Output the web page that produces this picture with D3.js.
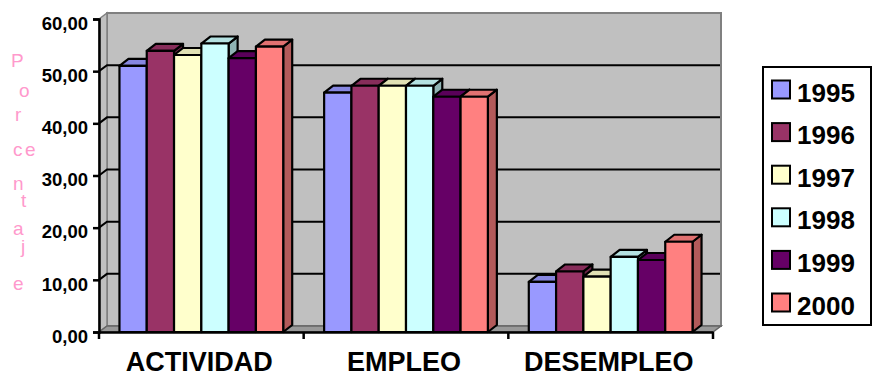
<!DOCTYPE html>
<html lang="es">
<head>
  <meta charset="UTF-8">
  <title>Actividad, empleo y desempleo</title>
  <script src="https://d3js.org/d3.v7.min.js"></script>
  <style>
    body { margin: 0; background: #fff; }
    svg { display: block; font-family: "Liberation Sans", Arial, sans-serif; }
    .tick-label { font-size: 18.5px; font-weight: bold; }
    .cat-label { font-size: 27px; font-weight: bold; fill: #000; }
    .legend text { font-size: 26px; font-weight: bold; }
    .title-y { font-size: 19px; fill: #ff99cc; }
  </style>
</head>
<body>
  <svg width="873" height="377"></svg>

  <script>
    // data
    const categories = ["ACTIVIDAD", "EMPLEO", "DESEMPLEO"];
    const years = ["1995", "1996", "1997", "1998", "1999", "2000"];
    const values = {
      "1995": [51.0, 45.9, 9.6],
      "1996": [53.9, 47.2, 11.6],
      "1997": [53.1, 47.2, 10.6],
      "1998": [55.3, 47.2, 14.4],
      "1999": [52.5, 45.1, 13.8],
      "2000": [54.7, 45.1, 17.3]
    };
    const yTicks = [0, 10, 20, 30, 40, 50, 60];
    const colors = ["#9999ff", "#993366", "#ffffcc", "#ccffff", "#660066", "#ff8080"];

    const svg = d3.select("svg");

    const x0 = 99, x1 = 713, yBase = 332, yTop = 19;
    const wallDx = 8, wallDy = 6;     // depth of the back wall
    const barDx = 9, barDy = 7;       // depth of each column

    const x = d3.scaleBand().domain(categories).range([x0, x1]);
    const xi = d3.scaleBand().domain(years).range([0, x.bandwidth()]).paddingOuter(0.75);
    const y = d3.scaleLinear().domain([0, 60]).range([yBase, yTop]);
    const color = d3.scaleOrdinal().domain(years).range(colors);

    const pts = a => a.map(p => p.join(",")).join(" ");

    // walls
    const walls = svg.append("g");
    // back wall
    walls.append("rect")
        .attr("x", x0 + wallDx).attr("y", yTop - wallDy)
        .attr("width", x1 - x0).attr("height", yBase - yTop)
        .attr("fill", "#c0c0c0").attr("stroke", "#808080").attr("stroke-width", 2);
    // side wall
    walls.append("polygon")
        .attr("points", pts([[x0, yTop], [x0 + wallDx, yTop - wallDy], [x0 + wallDx, yBase - wallDy], [x0, yBase]]))
        .attr("fill", "#c0c0c0").attr("stroke", "#808080").attr("stroke-width", 1.5);
    // floor
    walls.append("polygon")
        .attr("points", pts([[x0, yBase], [x0 + wallDx, yBase - wallDy], [x1 + wallDx, yBase - wallDy], [x1, yBase]]))
        .attr("fill", "#999999").attr("stroke", "#666666").attr("stroke-width", 1.5);

    // gridlines
    const grid = svg.append("g");
    yTicks.filter(t => t > 0 && t < 60).forEach(t => {
      grid.append("polyline")
          .attr("points", pts([[x0, y(t)], [x0 + wallDx, y(t) - wallDy], [x1 + wallDx - 1, y(t) - wallDy]]))
          .attr("fill", "none").attr("stroke", "#000").attr("stroke-width", 2);
    });

    // columns
    const bars = svg.append("g");
    categories.forEach((c, ci) => {
      years.forEach(yr => {
        const v = values[yr][ci];
        const bx = x(c) + xi(yr), bw = xi.bandwidth();
        const by = y(v), bh = yBase - by;
        const base = d3.color(color(yr));
        const g = bars.append("g").attr("stroke", "#000").attr("stroke-width", 2.2).attr("stroke-linejoin", "round");
        g.append("polygon")
            .attr("points", pts([[bx + bw, by], [bx + bw + barDx, by - barDy], [bx + bw + barDx, yBase - barDy], [bx + bw, yBase]]))
            .attr("fill", base.darker(1.0));
        g.append("polygon")
            .attr("points", pts([[bx, by], [bx + barDx, by - barDy], [bx + bw + barDx, by - barDy], [bx + bw, by]]))
            .attr("fill", base.darker(0.35));
        g.append("rect")
            .attr("x", bx).attr("y", by).attr("width", bw).attr("height", bh)
            .attr("fill", base);
      });
    });

    // y axis
    const yAxis = svg.append("g").attr("transform", `translate(${x0},0)`)
        .call(d3.axisLeft(y).tickValues(yTicks).tickSize(6).tickFormat(d => d3.format(".2f")(d).replace(".", ",")));
    yAxis.select(".domain").attr("stroke", "#000").attr("stroke-width", 2.5);
    yAxis.selectAll(".tick line").attr("stroke", "#000").attr("stroke-width", 2.5);
    yAxis.selectAll(".tick text").attr("class", "tick-label").attr("fill", "#000")
        .attr("x", -11).attr("dy", "0.55em");

    // x axis
    const xAxis = svg.append("g").attr("transform", `translate(0,${yBase})`)
        .call(d3.axisBottom(x).tickSize(0).tickFormat(""));
    xAxis.select(".domain").attr("stroke", "#000").attr("stroke-width", 2.5);
    xAxis.selectAll(".tick").remove();
    const sep = [x0].concat(categories.map(c => x(c) + x.bandwidth()));
    xAxis.selectAll("line.sep").data(sep).join("line")
        .attr("class", "sep")
        .attr("x1", d => d).attr("x2", d => d).attr("y1", 0).attr("y2", 7)
        .attr("stroke", "#000").attr("stroke-width", 2.5);

    svg.append("g").selectAll("text").data(categories).join("text")
        .attr("class", "cat-label")
        .attr("x", d => x(d) + x.bandwidth() / 2 - 2)
        .attr("y", yBase + 39)
        .attr("text-anchor", "middle")
        .text(d => d);

    // y title, letters stacked as in the original
    const titleLetters = [
      ["P", 11, 67], ["o", 19, 97], ["r", 15, 121], ["c", 13, 156], ["e", 25, 156],
      ["n", 13, 190], ["t", 21, 207], ["a", 13, 235], ["j", 21, 253], ["e", 13, 290]
    ];
    svg.append("g").selectAll("text").data(titleLetters).join("text")
        .attr("class", "title-y")
        .attr("x", d => d[1]).attr("y", d => d[2])
        .text(d => d[0]);

    // legend
    const legend = svg.append("g").attr("class", "legend");
    legend.append("rect")
        .attr("x", 763).attr("y", 67).attr("width", 108).attr("height", 258)
        .attr("fill", "#fff").attr("stroke", "#000").attr("stroke-width", 2);
    const ly = d3.scalePoint().domain(years).range([89.5, 302.5]);
    const item = legend.selectAll("g.item").data(years).join("g")
        .attr("class", "item")
        .attr("transform", d => `translate(772,${ly(d)})`);
    item.append("rect")
        .attr("x", 0).attr("y", -9).attr("width", 18).attr("height", 18)
        .attr("fill", d => color(d)).attr("stroke", "#000").attr("stroke-width", 2);
    item.append("text")
        .attr("x", 25).attr("y", 12)
        .text(d => d);
  </script>
</body>
</html>
